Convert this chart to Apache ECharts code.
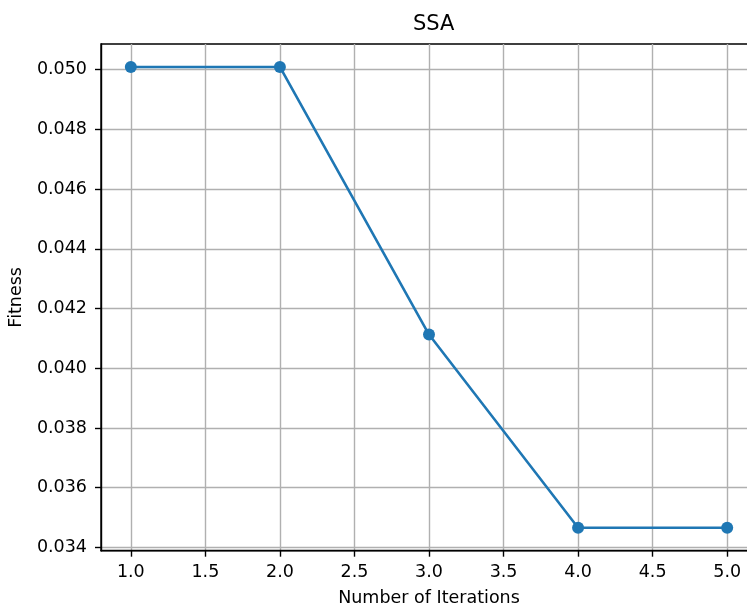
<!DOCTYPE html>
<html>
<head>
<meta charset="utf-8">
<script src="https://cdn.jsdelivr.net/npm/echarts@6/dist/echarts.min.js"></script>
<style>
html,body{margin:0;padding:0;background:#fff;}
#chart{width:747px;height:605px;}
</style>
</head>
<body>
<div id="chart"></div>
<script>
var iterations = [1, 2, 3, 4, 5];
var fitness = [0.05009, 0.05009, 0.04113, 0.03466, 0.03466];
var xTicks = [1.0, 1.5, 2.0, 2.5, 3.0, 3.5, 4.0, 4.5, 5.0];
var yTicks = [0.034, 0.036, 0.038, 0.040, 0.042, 0.044, 0.046, 0.048, 0.050];
var titleText = 'SSA';
var xName = 'Number of Iterations';
var yName = 'Fitness';

var FONT = 'DejaVu Sans';
var chart = echarts.init(document.getElementById('chart'), null, {renderer: 'canvas'});
var pts = iterations.map(function (x, i) { return [x, fitness[i]]; });

chart.setOption({
  animation: false,
  backgroundColor: '#ffffff',
  title: {
    text: titleText,
    left: 408,
    top: 9,
    textStyle: {fontFamily: FONT, fontSize: 21, fontWeight: 'normal', color: '#000'}
  },
  grid: {
    left: 101, top: 44, width: 656, height: 506.7,
    containLabel: false,
    outerBoundsMode: 'none',
    show: true, borderColor: '#000', borderWidth: 1.4, backgroundColor: 'transparent'
  },
  xAxis: {
    type: 'value',
    min: 0.8, max: 5.2,
    name: xName,
    nameLocation: 'middle',
    nameGap: 39,
    nameTextStyle: {fontFamily: FONT, fontSize: 17.5, color: '#000'},
    axisLine: {show: true, onZero: false, lineStyle: {color: '#000', width: 1.4}},
    axisTick: {show: true, length: 6, lineStyle: {color: '#000', width: 1.4}, customValues: xTicks},
    axisLabel: {
      show: true, margin: 13, fontFamily: FONT, fontSize: 17.5, color: '#000',
      customValues: xTicks,
      formatter: function (v) { return v.toFixed(1); }
    },
    splitLine: {show: true, lineStyle: {color: '#b0b0b0', width: 1.4}}
  },
  yAxis: {
    type: 'value',
    min: 0.03389, max: 0.05086,
    name: yName,
    nameLocation: 'middle',
    nameRotate: 90,
    nameGap: 76,
    nameTextStyle: {fontFamily: FONT, fontSize: 17.5, color: '#000'},
    axisLine: {show: true, onZero: false, lineStyle: {color: '#000', width: 1.4}},
    axisTick: {show: true, length: 6, lineStyle: {color: '#000', width: 1.4}, customValues: yTicks},
    axisLabel: {
      show: true, margin: 14, fontFamily: FONT, fontSize: 17.5, color: '#000',
      customValues: yTicks,
      formatter: function (v) { return v.toFixed(3); }
    },
    splitLine: {show: true, lineStyle: {color: '#b0b0b0', width: 1.4}}
  },
  series: [{
    type: 'line',
    data: pts,
    symbol: 'circle',
    symbolSize: 12,
    showSymbol: true,
    itemStyle: {color: '#1f77b4'},
    lineStyle: {color: '#1f77b4', width: 2.6},
    z: 5
  }]
});
</script>
</body>
</html>
